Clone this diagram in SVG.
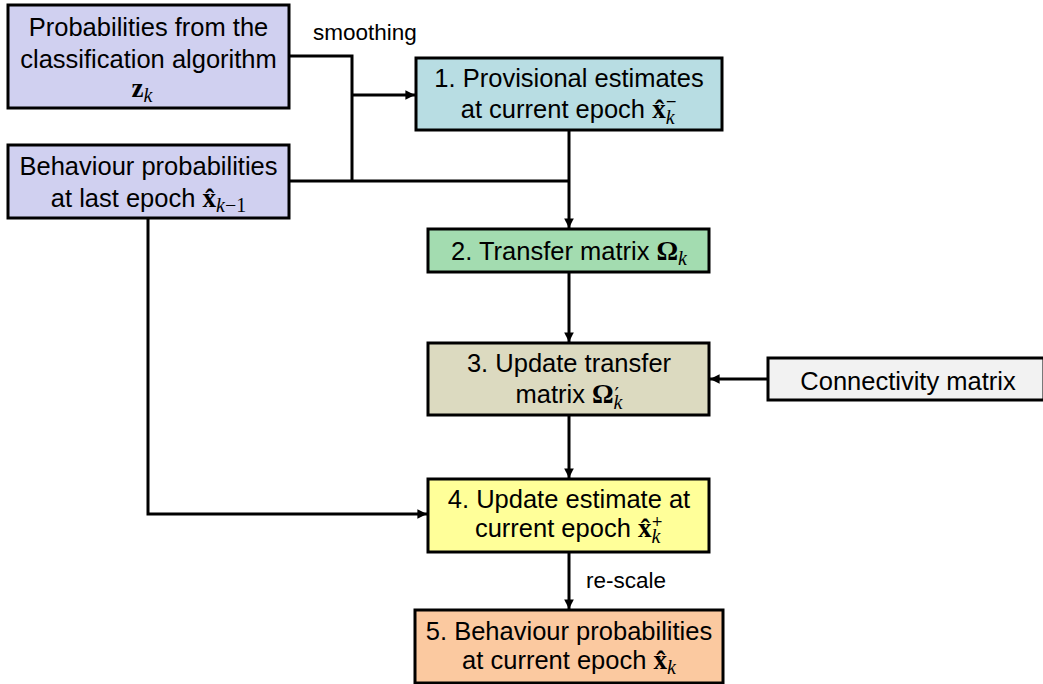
<svg xmlns="http://www.w3.org/2000/svg" width="1043" height="684" viewBox="0 0 1043 684">
  <defs>
    <marker id="arrow" viewBox="0 0 10 10" refX="10" refY="5" markerWidth="3.2" markerHeight="3.2" orient="auto" markerUnits="strokeWidth">
      <path d="M0,0 L10,5 L0,10 z" fill="#000"/>
    </marker>
    <style>
      .box { stroke: #000; stroke-width: 3; }
      .t { font-family: "Liberation Sans", Arial, sans-serif; font-size: 25.5px; fill: #000; text-anchor: middle; }
      .lbl { font-family: "Liberation Sans", Arial, sans-serif; font-size: 22.5px; fill: #000; }
      .m { font-family: "Liberation Serif", "DejaVu Serif", serif; font-weight: bold; font-size: 27px; }
      .i { font-family: "Liberation Serif", "DejaVu Serif", serif; font-style: italic; font-weight: normal; font-size: 20px; }
      .u { font-family: "Liberation Serif", "DejaVu Serif", serif; font-style: normal; font-weight: normal; font-size: 20px; }
      .s { font-family: "DejaVu Sans", sans-serif; font-style: normal; font-weight: normal; font-size: 14px; }
      .p { font-family: "DejaVu Serif", serif; font-style: normal; font-weight: normal; font-size: 20px; }
      .wire { fill: none; stroke: #000; stroke-width: 3; }
      .arr { fill: none; stroke: #000; stroke-width: 3; marker-end: url(#arrow); }
    </style>
  </defs>

  <rect width="1043" height="684" fill="#fff"/>

  <!-- connectors -->
  <g id="connectors">
    <polyline class="wire" points="289,56 352,56 352,181"/>
    <polyline class="wire" points="289,181 569,181"/>
    <line class="arr" x1="352" y1="95" x2="415" y2="95"/>
    <line class="arr" x1="569" y1="130" x2="569" y2="228"/>
    <line class="arr" x1="569" y1="272" x2="569" y2="342"/>
    <line class="arr" x1="768" y1="379" x2="710" y2="379"/>
    <line class="arr" x1="569" y1="415" x2="569" y2="478"/>
    <polyline class="arr" points="148,218 148,514 427,514"/>
    <line class="arr" x1="569" y1="552" x2="569" y2="609"/>
    <text class="lbl" x="313" y="40">smoothing</text>
    <text class="lbl" x="586" y="588">re-scale</text>
  </g>

  <!-- input: classifier probabilities -->
  <g id="classifier-probabilities">
    <rect class="box" x="8" y="5" width="281" height="103" fill="#d0d0f0"/>
    <text class="t" x="148.5" y="36">Probabilities from the</text>
    <text class="t" x="148.5" y="68">classification algorithm</text>
    <text class="t" x="142" y="97"><tspan class="m">z</tspan><tspan class="i" dy="5">k</tspan></text>
  </g>

  <!-- input: previous behaviour probabilities -->
  <g id="previous-probabilities">
    <rect class="box" x="8" y="145" width="281" height="73" fill="#d0d0f0"/>
    <text class="t" x="148.5" y="175">Behaviour probabilities</text>
    <text class="t" x="148.5" y="207">at last epoch <tspan class="m">x̂</tspan><tspan class="i" dy="5">k</tspan><tspan class="u">−1</tspan></text>
  </g>

  <!-- step 1 -->
  <g id="provisional-estimates">
    <rect class="box" x="416" y="58" width="306" height="72" fill="#b8dde3"/>
    <text class="t" x="569" y="87">1. Provisional estimates</text>
    <text class="t" x="569" y="118">at current epoch <tspan class="m">x̂</tspan><tspan class="i" dy="6">k</tspan><tspan class="s" dx="-9" dy="-18">−</tspan></text>
  </g>

  <!-- step 2 -->
  <g id="transfer-matrix">
    <rect class="box" x="428" y="229" width="281" height="43" fill="#a3dcb0"/>
    <text class="t" x="569" y="260">2. Transfer matrix <tspan class="m">Ω</tspan><tspan class="i" dy="5">k</tspan></text>
  </g>

  <!-- step 3 -->
  <g id="update-transfer-matrix">
    <rect class="box" x="428" y="343" width="281" height="72" fill="#dcdac0"/>
    <text class="t" x="569" y="372">3. Update transfer</text>
    <text class="t" x="569" y="403">matrix <tspan class="m">Ω</tspan><tspan class="i" dy="6">k</tspan><tspan class="p" dx="-8" dy="-7">′</tspan></text>
  </g>

  <!-- side input -->
  <g id="connectivity-matrix">
    <rect class="box" x="768" y="358" width="276" height="42" fill="#f2f2f2"/>
    <text class="t" x="908" y="390">Connectivity matrix</text>
  </g>

  <!-- step 4 -->
  <g id="update-estimate">
    <rect class="box" x="428" y="479" width="281" height="73" fill="#ffff99"/>
    <text class="t" x="569" y="508">4. Update estimate at</text>
    <text class="t" x="569" y="537">current epoch <tspan class="m">x̂</tspan><tspan class="i" dy="6">k</tspan><tspan class="s" dx="-9" dy="-17">+</tspan></text>
  </g>

  <!-- step 5 -->
  <g id="behaviour-probabilities">
    <rect class="box" x="415" y="610" width="308" height="73" fill="#fbc9a0"/>
    <text class="t" x="569" y="640">5. Behaviour probabilities</text>
    <text class="t" x="569" y="669">at current epoch <tspan class="m">x̂</tspan><tspan class="i" dy="5">k</tspan></text>
  </g>
</svg>
